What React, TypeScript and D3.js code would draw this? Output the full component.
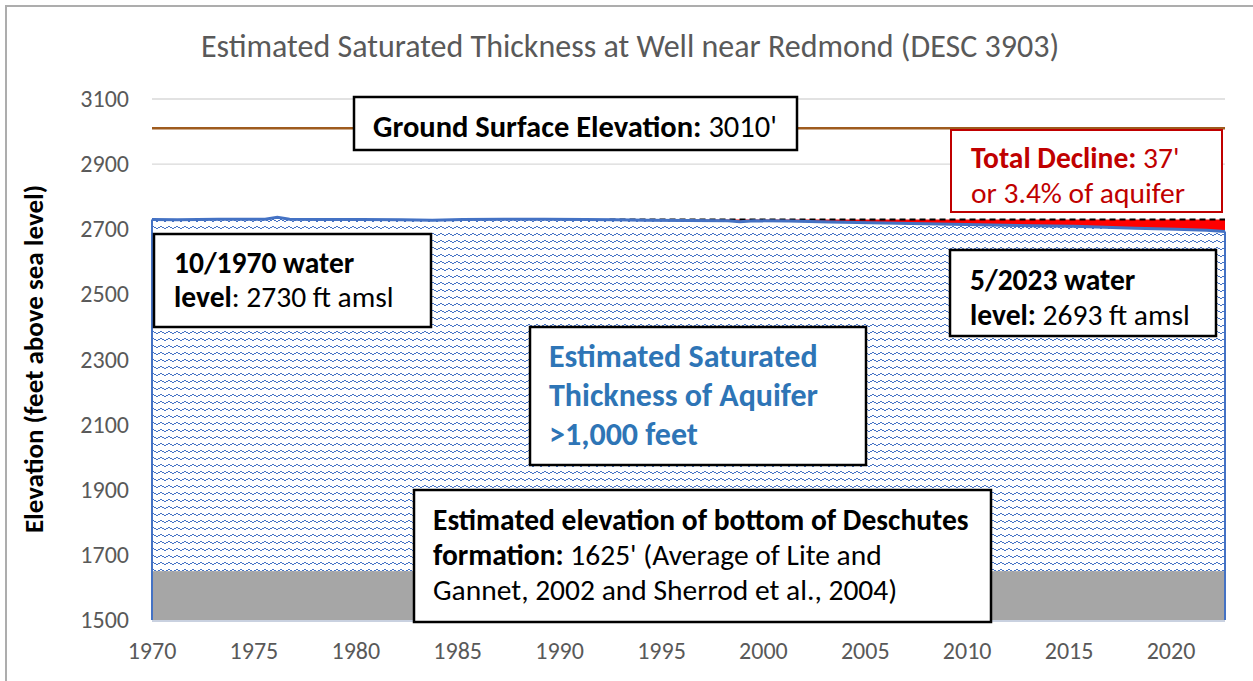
import React from "react";
import * as d3 from "d3";

// water level record (decimal year, feet amsl)
const levelYears = [1970.75, 1972, 1974, 1976.3, 1976.9, 1977.5, 1979, 1981, 1983, 1984.5, 1986, 1988, 1990, 1992, 1993.5, 1995, 1997, 1999, 1999.6, 2000.3, 2002, 2004, 2006, 2008, 2010, 2012, 2014, 2016, 2017.5, 2019, 2021, 2022.5, 2023.4];
const levelValues = [2730, 2729, 2731, 2731, 2737, 2731, 2730, 2730, 2729, 2728, 2730, 2731, 2731, 2730, 2729, 2728, 2727, 2726, 2723, 2726, 2725, 2722, 2720, 2718, 2715, 2713, 2711, 2709, 2706, 2703, 2700, 2697, 2693];

const startLevel = 2730; // 10/1970 reference (dashed line)
const declineStartYear = 1993.2;
const groundSurface = 3010;
const formationBottom = 1650;

const yTicks = [1500, 1700, 1900, 2100, 2300, 2500, 2700, 2900, 3100];
const xTicks = [1970, 1975, 1980, 1985, 1990, 1995, 2000, 2005, 2010, 2015, 2020];

const W = 1253;
const H = 681;
const FONT = "Carlito, Lato, 'Open Sans', sans-serif";
const BLUE = "#4472C4";

export default function App() {
  const left = 152;
  const right = 1225;
  const top = 99;
  const bottom = 620;

  // date axis starts at the first reading (10/1970), major unit 5 years
  const x = d3.scaleLinear().domain([1970.75, 2023.4]).range([left, right]);
  const y = d3.scaleLinear().domain([1500, 3100]).range([bottom, top]);

  const pts = levelYears.map((yr, i) => ({ yr, v: levelValues[i] }));

  const waterArea = d3.area<{ yr: number; v: number }>()
    .x(d => x(d.yr))
    .y0(y(1500))
    .y1(d => y(d.v));

  const waterLine = d3.line<{ yr: number; v: number }>()
    .x(d => x(d.yr))
    .y(d => y(d.v));

  const declinePts = pts.filter(d => d.yr >= declineStartYear);
  const declineArea = d3.area<{ yr: number; v: number }>()
    .x(d => x(d.yr))
    .y0(d => y(Math.min(d.v, startLevel)))
    .y1(y(startLevel));

  // wave pattern (8x8 tile, 2px steps)
  const wave = [0, 0, 1, 1, 2, 2, 1, 1];

  return (
    <svg width={W} height={H} style={{ position: "absolute", left: 0, top: 0, background: "#fff" }} fontFamily={FONT}>
      <defs>
        <pattern id="wave" width={8} height={7} patternUnits="userSpaceOnUse">
          <rect width={8} height={7} fill="#fff" />
          {wave.map((dy, i) => (
            <rect key={i} x={i} y={dy + 2} width={1} height={1.4} fill={BLUE} shapeRendering="crispEdges" />
          ))}
        </pattern>
      </defs>

      {/* chart frame */}
      <rect x={6} y={6} width={1280} height={700} fill="none" stroke="#ADADAD" strokeWidth={2} />

      {/* title */}
      <text x={630} y={57} textAnchor="middle" fontSize={32} fill="#595959">
        Estimated Saturated Thickness at Well near Redmond (DESC 3903)
      </text>

      {/* gridlines */}
      {yTicks.map(t => (
        <line key={t} x1={left} x2={right} y1={y(t)} y2={y(t)} stroke="#D9D9D9" strokeWidth={1.3} />
      ))}

      {/* ground surface */}
      <line x1={left} x2={right} y1={y(groundSurface)} y2={y(groundSurface)} stroke="#9E5B1E" strokeWidth={2.5} />

      {/* saturated thickness */}
      <path d={waterArea(pts) || ""} fill="url(#wave)" />
      <rect x={left} y={y(formationBottom)} width={right - left} height={y(1500) - y(formationBottom)} fill="#A6A6A6" />
      <line x1={left} x2={left} y1={y(levelValues[0])} y2={y(1500)} stroke={BLUE} strokeWidth={2} />
      <line x1={right} x2={right} y1={y(levelValues[levelValues.length - 1])} y2={y(1500)} stroke={BLUE} strokeWidth={2} />

      {/* decline */}
      <path d={declineArea(declinePts) || ""} fill="#FF0000" />
      <line x1={x(declineStartYear)} x2={right} y1={y(startLevel)} y2={y(startLevel)} stroke="#000" strokeWidth={2} strokeDasharray="6,4" />
      <path d={waterLine(pts) || ""} fill="none" stroke={BLUE} strokeWidth={3} />

      {/* x axis line */}
      <line x1={left} x2={right} y1={bottom + 1} y2={bottom + 1} stroke="#C9D1E0" strokeWidth={2} />

      {/* ticks */}
      {yTicks.map(t => (
        <text key={t} x={129} y={y(t) + 8} textAnchor="end" fontSize={24} fill="#595959">{t}</text>
      ))}
      {xTicks.map(t => (
        <text key={t} x={x(t + 0.75)} y={659} textAnchor="middle" fontSize={24} fill="#595959">{t}</text>
      ))}

      <text transform={`translate(43,359) rotate(-90)`} textAnchor="middle" fontSize={27} fontWeight="bold" fill="#000">
        Elevation (feet above sea level)
      </text>

      {/* annotations */}
      <g fontSize={29.5} fill="#000">
        <rect x={354} y={97} width={443} height={53} fill="#fff" stroke="#000" strokeWidth={2.5} />
        <text x={373} y={137} fontSize={30.5}>
          <tspan fontWeight="bold">Ground Surface Elevation:</tspan> 3010'
        </text>

        <rect x={951} y={130} width={271} height={82} fill="#fff" stroke="#C00000" strokeWidth={2} />
        <text x={971} y={168} fill="#C00000">
          <tspan fontWeight="bold">Total Decline:</tspan> 37'
        </text>
        <text x={971} y={203} fill="#C00000">or 3.4% of aquifer</text>

        <rect x={154} y={234} width={277} height={93} fill="#fff" stroke="#000" strokeWidth={2.5} />
        <text x={174} y={273} fontWeight="bold">10/1970 water</text>
        <text x={174} y={307}>
          <tspan fontWeight="bold">level</tspan>: 2730 ft amsl
        </text>

        <rect x={950} y={250} width={266} height={86} fill="#fff" stroke="#000" strokeWidth={2.5} />
        <text x={970} y={290} fontWeight="bold">5/2023 water</text>
        <text x={970} y={325}>
          <tspan fontWeight="bold">level:</tspan> 2693 ft amsl
        </text>

        <rect x={530} y={327} width={336} height={138} fill="#fff" stroke="#000" strokeWidth={2.5} />
        <g fontWeight="bold" fill="#2E75B6" fontSize={32}>
          <text x={549} y={367}>Estimated Saturated</text>
          <text x={549} y={406}>Thickness of Aquifer</text>
          <text x={549} y={445}>&gt;1,000 feet</text>
        </g>

        <rect x={414} y={490} width={577} height={132} fill="#fff" stroke="#000" strokeWidth={2.5} />
        <text x={433} y={530} fontWeight="bold">Estimated elevation of bottom of Deschutes</text>
        <text x={433} y={565}>
          <tspan fontWeight="bold">formation:</tspan> 1625' (Average of Lite and
        </text>
        <text x={433} y={600}>Gannet, 2002 and Sherrod et al., 2004)</text>
      </g>
    </svg>
  );
}
